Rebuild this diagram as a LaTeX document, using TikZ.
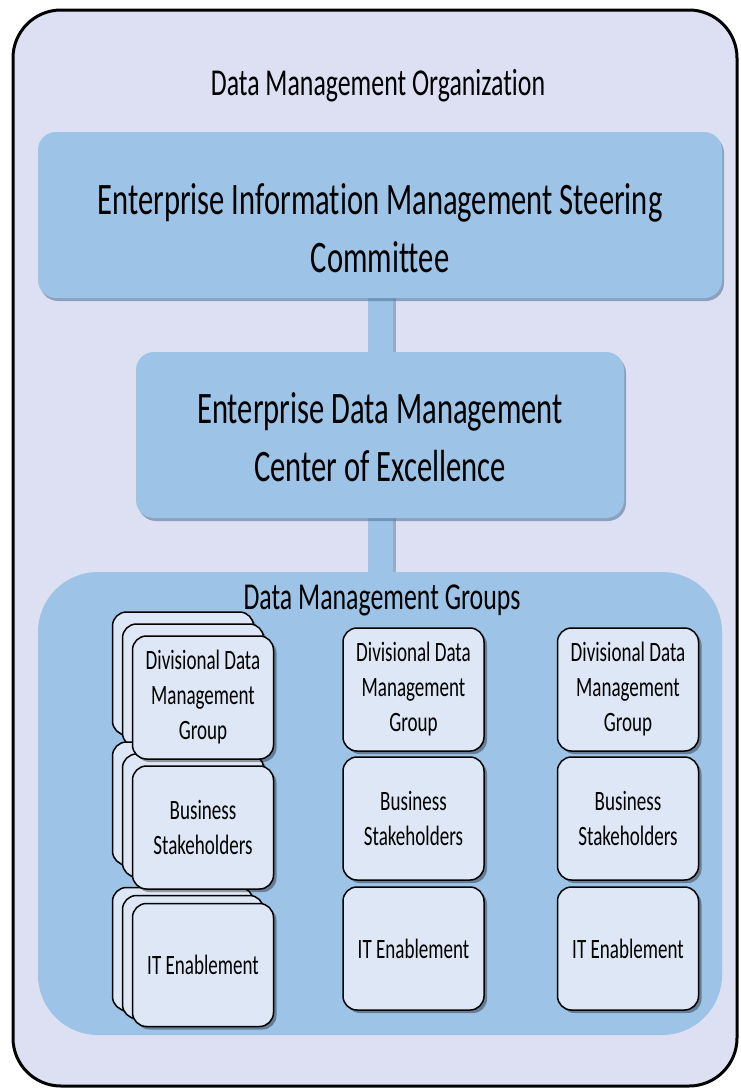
\documentclass[tikz,border=0pt]{standalone}
\usepackage{fontspec}
\setmainfont{Carlito}[FakeStretch=0.68, Ligatures=NoCommon]
\usetikzlibrary{shadows,backgrounds}
\definecolor{lav}{HTML}{DCE0F2}
\definecolor{skyb}{HTML}{9DC3E6}
\definecolor{pale}{HTML}{DDE7F5}
\definecolor{shb}{HTML}{56789C}
\begin{document}
\begin{tikzpicture}[x=1pt,y=-1pt,
  outerbox/.style={draw=black, line width=3pt, fill=lav, rounded corners=48pt},
  groupbox/.style={fill=skyb, rounded corners=60pt},
  bluebox/.style={fill=skyb, rounded corners=18pt,
     drop shadow={shadow xshift=2pt, shadow yshift=-3pt, fill=shb, opacity=0.6}},
  bigtext/.style={align=center, font=\fontsize{45}{58}\selectfont},
  smallbox/.style={draw=black, line width=1.5pt, fill=pale, rounded corners=14pt,
     minimum width=141pt, minimum height=123pt, align=center,
     font=\fontsize{28}{35}\selectfont,
     drop shadow={shadow xshift=3pt, shadow yshift=-3pt, fill=black, opacity=0.35}},
  titletext/.style={font=\fontsize{38}{46}\selectfont, anchor=base},
  bar/.style={line width=25pt, draw=skyb},
  barshadow/.style={line width=25pt, draw=shb, opacity=0.5},
]
\useasboundingbox (0,0) rectangle (741,1088);

\begin{scope}[on background layer]
\node[outerbox, minimum width=724pt, minimum height=1076pt] (org) at (375,548) {};
\node[groupbox, minimum width=684pt, minimum height=463pt] (dmg) at (380,803.5) {};
\end{scope}

\node[titletext] (orgt) at (378,95) {Data Management Organization};
\node[titletext] (dmgt) at (382,609) {Data Management Groups};

\node[bluebox, minimum width=684pt, minimum height=166pt] (sc) at (380,215) {};
\node[bigtext] (sct) at (380,228) {Enterprise Information Management Steering\\Committee};
\node[bluebox, minimum width=488pt, minimum height=166pt] (coe) at (380,435) {};
\node[bigtext] (coet) at (380,437) {Enterprise Data Management\\Center of Excellence};

\begin{scope}[on background layer]
\draw[barshadow] ([xshift=3pt]sc.south) -- ([xshift=3pt]coe.north);
\draw[bar] (sc.south) -- (coe.north);
\draw[barshadow] ([xshift=3pt]coe.south) -- ([xshift=3pt]dmg.north);
\draw[bar] (coe.south) -- (dmg.north);
\end{scope}

% column 1 : stacked copies
\node[smallbox] (d1c) at (183,673.5) {};
\node[smallbox] (d1b) at (193,685.5) {};
\node[smallbox] (b1c) at (183,803.5) {};
\node[smallbox] (b1b) at (193,815.5) {};
\node[smallbox] (i1c) at (183,949) {};
\node[smallbox] (i1b) at (193,957) {};
\node[smallbox] (d1) at (203,697.5) {Divisional Data\\Management\\Group};
\node[smallbox] (b1) at (203,827.5) {Business\\Stakeholders};
\node[smallbox] (i1) at (203,965) {IT Enablement};

% column 2
\node[smallbox] (d2) at (413.5,689.5) {Divisional Data\\Management\\Group};
\node[smallbox] (b2) at (413.5,818.5) {Business\\Stakeholders};
\node[smallbox] (i2) at (413.5,948.5) {IT Enablement};

% column 3
\node[smallbox] (d3) at (628,689.5) {Divisional Data\\Management\\Group};
\node[smallbox] (b3) at (628,818.5) {Business\\Stakeholders};
\node[smallbox] (i3) at (628,948.5) {IT Enablement};
\end{tikzpicture}
\end{document}
